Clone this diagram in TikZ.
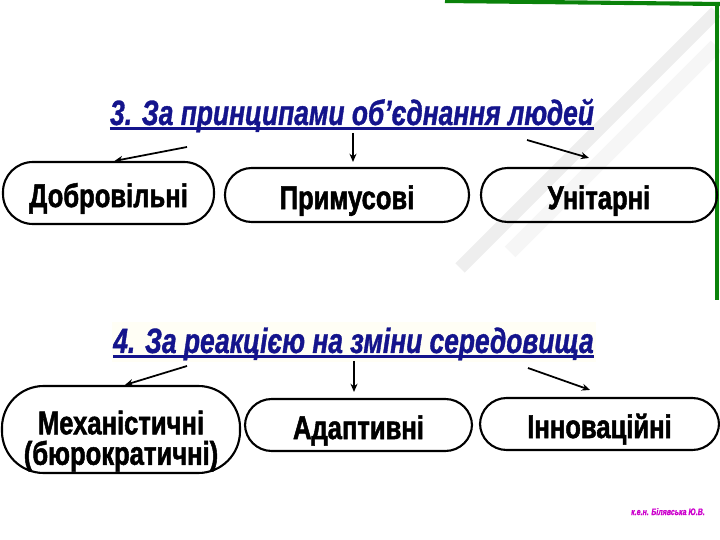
\documentclass[tikz,border=0pt]{standalone}
\usepackage{fontspec}
\setmainfont{Liberation Sans}
\newfontfamily\boxfont[FakeStretch=0.78,FakeBold=1.5]{Liberation Sans}
\newfontfamily\headfont[FakeStretch=0.75,FakeBold=1]{Liberation Sans}
\usetikzlibrary{arrows.meta}
\definecolor{headblue}{RGB}{20,20,140}
\definecolor{slidegreen}{RGB}{10,130,10}
\definecolor{signpink}{RGB}{204,0,204}

\begin{document}
\begin{tikzpicture}[x=0.03cm, y=-0.03cm,
    oval/.style={draw, line width=1.8pt, rounded corners=0.8cm, align=center, inner sep=0pt,
      font=\boxfont\bfseries\fontsize{28}{26}\selectfont},
    oneline/.style={oval, text height=24pt, text depth=0pt},
    heading/.style={headblue, anchor=base, inner sep=0pt,
      font=\headfont\bfseries\itshape\fontsize{30}{30}\selectfont},
    arr/.style={line width=1.5pt, -{Stealth[length=7pt,width=6pt]}}]
  \useasboundingbox (0,0) rectangle (720,540);
  % \draw [help lines, step=30] (0,0) grid (720,540);

  % slide background
  \draw[gray!13, line width=0.40cm] (460,268) -- (716,12);
  \draw[gray!7, line width=0.45cm] (510,252) -- (716,46);
  \draw[slidegreen, line width=3.5pt] (445,1) -- (720,4);
  \draw[slidegreen, line width=4pt] (717,2) -- (717,300);
  \fill[yellow!4] (112,322) rectangle (596,362);

  % 3
  \node[heading] (head3) at (352,125) {3. За принципами об’єднання людей};
  \draw[headblue, line width=2.5pt] ([yshift=-3pt]head3.base west) -- ([yshift=-3pt]head3.base east);

  \node[oneline, rounded corners=0.9cm, minimum width=6.33cm, minimum height=1.86cm] (dobr) at (108.5,193) {Добровільні};
  \node[oneline, minimum width=7.32cm, minimum height=1.62cm] (prymus) at (347,195) {Примусові};
  \node[oneline, minimum width=7.08cm, minimum height=1.62cm] (unit) at (599,195) {Унітарні};

  \coordinate (from3l) at (187,147);
  \coordinate (from3m) at (353,133);
  \coordinate (from3r) at (527,140);
  \draw[arr] (from3l) -- ([shift={(6,0)}]dobr.north);
  \draw[arr] (from3m) -- ([shift={(6,-5)}]prymus.north);
  \draw[arr] (from3r) -- ([shift={(-10,-9)}]unit.north);

  % 4
  \node[heading] (head4) at (353.5,353) {4. За реакцією на зміни середовища};
  \draw[headblue, line width=2.5pt] ([yshift=-3pt]head4.base west) -- ([yshift=-3pt]head4.base east);

  \node[oval, rounded corners=1.25cm, minimum width=7.14cm, minimum height=2.61cm] (mech) at (121,429.5)
    {\rule{0pt}{40pt}Механістичні\\(бюрократичні)};
  \node[oneline, minimum width=6.81cm, minimum height=1.56cm] (adapt) at (358.5,425) {Адаптивні};
  \node[oneline, minimum width=7.17cm, minimum height=1.56cm] (innov) at (599.5,424) {Інноваційні};

  \coordinate (from4l) at (187,366);
  \coordinate (from4m) at (354,361);
  \coordinate (from4r) at (528,368);
  \draw[arr] (from4l) -- ([shift={(4,0)}]mech.north);
  \draw[arr] (from4m) -- ([shift={(-4.5,-6)}]adapt.north);
  \draw[arr] (from4r) -- ([shift={(-9.5,-7)}]innov.north);

  \node[signpink, anchor=base, font=\headfont\bfseries\itshape\fontsize{8}{8}\selectfont] (sign) at (668,515)
    {к.е.н. Білявська Ю.В.};
\end{tikzpicture}
\end{document}
